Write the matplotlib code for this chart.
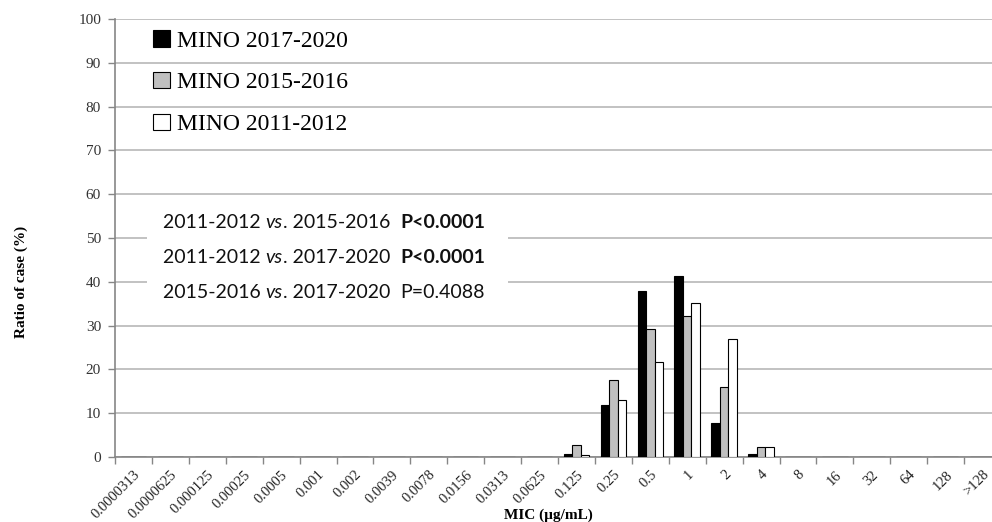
import numpy as np
import matplotlib
matplotlib.use("Agg")
from matplotlib import pyplot as plt
from matplotlib.patches import Rectangle

# MIC categories (x axis)
mic_labels = ["0.0000313", "0.0000625", "0.000125", "0.00025", "0.0005", "0.001",
              "0.002", "0.0039", "0.0078", "0.0156", "0.0313", "0.0625", "0.125",
              "0.25", "0.5", "1", "2", "4", "8", "16", "32", "64", "128", ">128"]

# ratio of case (%) per MIC
mino_2017_2020 = [0, 0, 0, 0, 0, 0, 0, 0, 0, 0, 0, 0, 0.7, 11.9, 37.8, 41.3, 7.7, 0.7, 0, 0, 0, 0, 0, 0]
mino_2015_2016 = [0, 0, 0, 0, 0, 0, 0, 0, 0, 0, 0, 0, 2.7, 17.6, 29.3, 32.1, 16.0, 2.2, 0, 0, 0, 0, 0, 0]
mino_2011_2012 = [0, 0, 0, 0, 0, 0, 0, 0, 0, 0, 0, 0, 0.5, 13.0, 21.8, 35.1, 27.0, 2.2, 0, 0, 0, 0, 0, 0]

series_names = ["MINO 2017-2020", "MINO 2015-2016", "MINO 2011-2012"]
series_colors = ["black", "#c0c0c0", "white"]

# p-value lines: (comparison a, comparison b, p text, bold?)
p_rows = [("2011-2012", "2015-2016", "P<0.0001", True),
          ("2011-2012", "2017-2020", "P<0.0001", True),
          ("2015-2016", "2017-2020", "P=0.4088", False)]

W, H = 992, 522
fig = plt.figure(figsize=(W / 100, H / 100), dpi=100)
ax = fig.add_axes([115 / W, 1 - 457 / H, 886 / W, 438 / H])

x = np.arange(len(mic_labels))
bw = 0.23
all_series = [mino_2017_2020, mino_2015_2016, mino_2011_2012]
for i, vals in enumerate(all_series):
    ax.bar(x + (i - 1) * bw, vals, width=bw, color=series_colors[i], edgecolor="black",
           linewidth=0.8, label=series_names[i], zorder=3)

ax.set_xlim(-0.5, len(mic_labels) - 0.5)
ax.set_ylim(0, 100)
ax.set_yticks(np.arange(0, 101, 10))
ax.yaxis.grid(True, color="#bdbdbd", linewidth=1.3)
ax.set_axisbelow(True)

serif = "Liberation Serif"
ax.set_yticklabels([str(v) for v in range(0, 101, 10)], fontfamily=serif, fontsize=11, color="#333333")
ax.set_xticks(x)
ax.set_xticklabels(mic_labels, fontfamily=serif, fontsize=10.5, color="#222222",
                   rotation=45, ha="right", va="top", rotation_mode="anchor")
ax.set_xticks(np.arange(-0.5, len(mic_labels), 1), minor=True)
ax.tick_params(axis="x", which="major", length=0, pad=8)
ax.tick_params(axis="x", which="minor", length=5, color="#868686", width=1)
ax.tick_params(axis="y", length=5, color="#868686", width=1, pad=5)

for s in ["top", "right"]:
    ax.spines[s].set_visible(False)
for s in ["left", "bottom"]:
    ax.spines[s].set_color("#868686")
    ax.spines[s].set_linewidth(1.2)

ax.legend(loc="upper left", bbox_to_anchor=(153 / W, 1 - 30 / H), bbox_transform=fig.transFigure,
          frameon=False, prop={"family": serif, "size": 17}, handlelength=0.7, handleheight=0.7,
          handletextpad=0.3, labelspacing=0.86, borderaxespad=0, borderpad=0)

# white box behind the p-values
ax.add_patch(Rectangle((147 / W, 1 - 308 / H), (508 - 147) / W, (308 - 200) / H,
                       transform=fig.transFigure, facecolor="white", edgecolor="none", zorder=1))

sans = "Lato"
fs = 14
for k, (a, b, p, bold) in enumerate(p_rows):
    yc = 1 - (222 + 35.3 * k) / H
    t = fig.text(163 / W, yc, a + " ", fontfamily=sans, fontsize=fs, va="center", color="#111111")
    t = ax.annotate("vs", xy=(1, 0), xycoords=t, va="bottom", fontfamily=sans, fontsize=fs,
                    fontstyle="italic", color="#111111")
    t = ax.annotate(". " + b + "  ", xy=(1, 0), xycoords=t, va="bottom", fontfamily=sans,
                    fontsize=fs, color="#111111")
    ax.annotate(p, xy=(1, 0), xycoords=t, va="bottom", fontfamily=sans, fontsize=fs,
                fontweight="bold" if bold else "normal", color="#111111")

fig.text(548 / W, 1 - 515 / H, "MIC (\u00b5g/mL)", fontfamily=serif, fontweight="bold",
         fontsize=11, ha="center", va="center")
fig.text(21 / W, 1 - 282 / H, "Ratio of case (%)", fontfamily=serif, fontweight="bold",
         fontsize=11, ha="center", va="center", rotation=90)

fig.savefig("out.png", dpi=100, facecolor="white")
